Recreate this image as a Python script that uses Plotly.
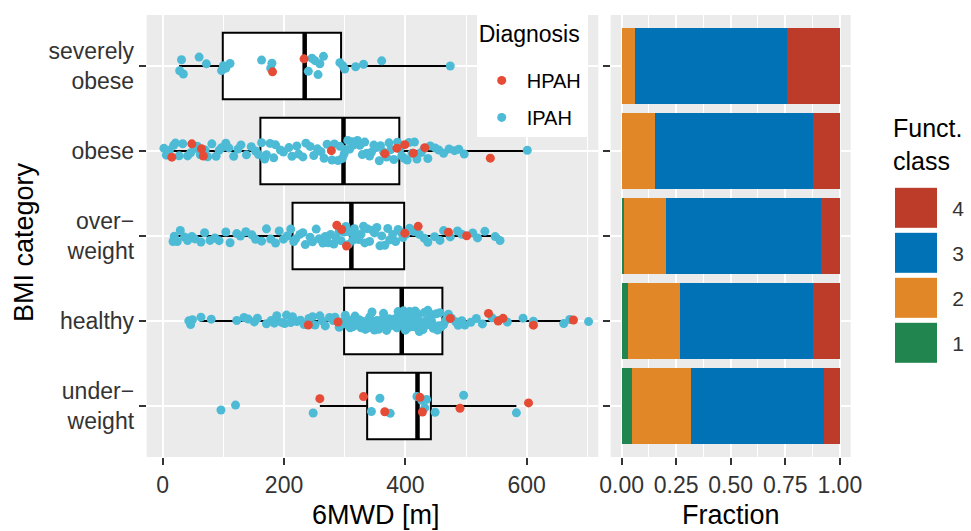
import plotly.graph_objects as go

W, H = 971, 531

# ---------------- data ----------------
categories = ["severely obese", "obese", "overweight", "healthy", "underweight"]
category_labels = ["severely<br>obese", "obese", "over\u2212<br>weight", "healthy", "under\u2212<br>weight"]

# box statistics (6MWD, m)
box_q1 = [99, 161, 214, 299, 337]
box_median = [234, 298, 311, 394, 420]
box_q3 = [294, 390, 398, 461, 442]
box_lower = [27, 8, 23, 61, 259]
box_upper = [474, 600, 555, 671, 583]

# individual patients (6MWD, m)
ipah_severely_obese = [28, 31, 34, 60, 72, 97, 100, 104, 111, 163, 178, 180, 240, 246, 251,
                       256, 259, 265, 292, 297, 300, 318, 331, 361, 474]
hpah_severely_obese = [181, 233]

ipah_obese = [2, 6, 11, 18, 21, 27, 33, 41, 46, 53, 57, 62, 70, 74, 81, 88, 93, 97, 104, 109,
              117, 124, 129, 138, 146, 153, 158, 163, 168, 171, 177, 183, 186, 194, 199, 208,
              213, 221, 224, 231, 236, 243, 249, 255, 261, 266, 271, 279, 283, 289, 292, 296,
              299, 301, 305, 308, 312, 314, 319, 321, 325, 329, 333, 336, 341, 344, 348, 352,
              357, 359, 364, 369, 373, 376, 381, 387, 391, 394, 398, 403, 406, 411, 415, 419,
              426, 431, 437, 441, 449, 455, 463, 472, 481, 488, 497, 601]
hpah_obese = [15, 48, 64, 67, 278, 366, 386, 399, 413, 432, 540]

ipah_overweight = [17, 19, 24, 29, 36, 41, 48, 53, 63, 69, 78, 86, 93, 104, 111, 122, 128, 137,
                   147, 153, 163, 171, 178, 186, 192, 199, 205, 211, 216, 219, 226, 231, 235,
                   243, 247, 253, 258, 264, 268, 273, 277, 282, 286, 291, 294, 299, 302, 306,
                   309, 313, 316, 319, 323, 327, 331, 333, 337, 341, 346, 349, 353, 358, 361,
                   366, 371, 374, 379, 384, 388, 393, 396, 401, 407, 414, 423, 431, 437, 448,
                   457, 463, 474, 486, 493, 511, 519, 531, 548, 556]
hpah_overweight = [287, 295, 303, 399, 421, 471, 501]

ipah_healthy = [43, 46, 49, 63, 80, 122, 134, 141, 151, 156, 171, 179, 184, 188, 196, 201, 204,
                211, 214, 221, 227, 233, 241, 247, 251, 259, 263, 268, 275, 281, 284, 291, 296,
                300, 301, 304, 306, 309, 311, 314, 317, 319, 322, 324, 327, 329, 331, 334, 336,
                339, 341, 342, 345, 347, 349, 351, 353, 356, 358, 361, 362, 364, 367, 369, 371,
                373, 376, 377, 379, 382, 384, 386, 388, 389, 391, 393, 395, 397, 398, 400, 401,
                403, 405, 407, 409, 411, 412, 414, 416, 417, 419, 421, 423, 424, 426, 428, 429,
                431, 433, 435, 437, 439, 441, 443, 444, 446, 448, 451, 453, 455, 457, 459, 463,
                466, 471, 476, 483, 487, 493, 498, 508, 517, 527, 543, 553, 568, 594, 611, 661,
                671, 702]
hpah_healthy = [240, 289, 474, 537, 553, 561, 611, 677]

ipah_underweight = [96, 120, 248, 344, 358, 375, 419, 427, 432, 435, 449, 496, 583]
hpah_underweight = [259, 331, 366, 424, 428, 490, 603]

ipah_values = [ipah_severely_obese, ipah_obese, ipah_overweight, ipah_healthy, ipah_underweight]
hpah_values = [hpah_severely_obese, hpah_obese, hpah_overweight, hpah_healthy, hpah_underweight]

# functional class fractions per BMI category
func_classes = [1, 2, 3, 4]
frac_class1 = [0.000, 0.000, 0.011, 0.030, 0.049]
frac_class2 = [0.063, 0.154, 0.193, 0.237, 0.268]
frac_class3 = [0.696, 0.724, 0.709, 0.611, 0.611]
frac_class4 = [0.241, 0.122, 0.087, 0.122, 0.072]
fractions = [frac_class1, frac_class2, frac_class3, frac_class4]

# ---------------- style ----------------
diag_colors = {"HPAH": "#E64B35", "IPAH": "#4DBBD5"}
class_colors = {1: "#20854E", 2: "#E18727", 3: "#0072B5", 4: "#BC3C29"}
FONT = "Liberation Sans, Arial, Helvetica, sans-serif"
TICK_COL = "#333333"
PANEL = "#EBEBEB"
TICK_SIZE = 23


def px_x(p):
    return p / W


def px_y(p):
    return 1 - p / H


fig = go.Figure()

# boxes
fig.add_trace(go.Box(
    y=categories, q1=box_q1, median=box_median, q3=box_q3,
    lowerfence=box_lower, upperfence=box_upper,
    orientation="h", fillcolor="white", line=dict(color="black", width=2),
    width=0.78, whiskerwidth=0, boxpoints=False, hoverinfo="skip",
    showlegend=False, xaxis="x", yaxis="y"))
# thick median
fig.add_trace(go.Box(
    y=categories, q1=box_median, median=box_median, q3=box_median,
    lowerfence=box_median, upperfence=box_median,
    orientation="h", fillcolor="black", line=dict(color="black", width=4.5),
    width=0.78, whiskerwidth=0, boxpoints=False, hoverinfo="skip",
    showlegend=False, xaxis="x", yaxis="y"))

# jittered points
for name, vals in [("IPAH", ipah_values), ("HPAH", hpah_values)]:
    xs, ys = [], []
    for cat, v in zip(categories, vals):
        xs.extend(v)
        ys.extend([cat] * len(v))
    fig.add_trace(go.Box(
        x=xs, y=ys, orientation="h", boxpoints="all", jitter=0.34, pointpos=0,
        width=0.78, fillcolor="rgba(0,0,0,0)", line=dict(width=0, color="rgba(0,0,0,0)"),
        marker=dict(color=diag_colors[name], size=9, opacity=1),
        hoverinfo="skip", showlegend=False, xaxis="x", yaxis="y"))

# legend entries for diagnosis
for i, name in enumerate(["HPAH", "IPAH"]):
    extra = {}
    if i == 0:
        extra["legendgrouptitle"] = dict(text=" ", font=dict(size=4))
    fig.add_trace(go.Scatter(
        x=[None], y=[None], mode="markers", name=name, legendgroup=name,
        marker=dict(color=diag_colors[name], size=9), xaxis="x", yaxis="y", **extra))

# stacked fraction bars
for c, fr in zip(func_classes, fractions):
    fig.add_trace(go.Bar(
        y=categories, x=fr, orientation="h", width=0.9,
        marker=dict(color=class_colors[c], line=dict(width=0)),
        showlegend=False, hoverinfo="skip", xaxis="x2", yaxis="y2"))

# functional-class legend keys
cmin, cmax = min(func_classes), max(func_classes)
cscale = [[(c - cmin) / (cmax - cmin), class_colors[c]] for c in func_classes]
fig.add_trace(go.Heatmap(
    x=[0], y=func_classes, z=[[c] for c in func_classes], zmin=cmin, zmax=cmax,
    colorscale=cscale, showscale=False, ygap=5, hoverinfo="skip",
    xaxis="x3", yaxis="y3"))

y_dom = [px_y(457), px_y(15)]
common_y = dict(
    type="category", categoryorder="array", categoryarray=categories,
    range=[4.6, -0.6], showgrid=True, gridcolor="white", gridwidth=2,
    ticks="outside", ticklen=7, tickwidth=1.5, tickcolor=TICK_COL,
    zeroline=False, showline=False, domain=y_dom, automargin=False,
)

fig.update_layout(
    width=W, height=H,
    margin=dict(l=0, r=0, t=0, b=0),
    paper_bgcolor="white", plot_bgcolor="white",
    font=dict(family=FONT, color="black"),
    barmode="stack", boxmode="overlay",
    xaxis=dict(
        domain=[px_x(146.7), px_x(598.3)], range=[-26.4, 718],
        tick0=0, dtick=200, showgrid=True, gridcolor="white", gridwidth=2,
        minor=dict(dtick=100, showgrid=True, gridcolor="white", gridwidth=1),
        ticks="outside", ticklen=7, tickwidth=1.5, tickcolor=TICK_COL,
        tickfont=dict(size=TICK_SIZE, color=TICK_COL), zeroline=False, anchor="y",
        automargin=False,
    ),
    yaxis=dict(**common_y, anchor="x", tickmode="array", tickvals=categories,
               ticktext=category_labels, tickfont=dict(size=TICK_SIZE, color=TICK_COL)),
    xaxis2=dict(
        domain=[px_x(610.7), px_x(850.7)], range=[-0.05, 1.05],
        tickvals=[0, 0.25, 0.5, 0.75, 1.0], tickformat=".2f",
        showgrid=True, gridcolor="white", gridwidth=2,
        minor=dict(tickvals=[0.125, 0.375, 0.625, 0.875], showgrid=True,
                   gridcolor="white", gridwidth=1),
        ticks="outside", ticklen=7, tickwidth=1.5, tickcolor=TICK_COL,
        tickfont=dict(size=TICK_SIZE, color=TICK_COL), zeroline=False, anchor="y2",
        automargin=False,
    ),
    yaxis2=dict(**common_y, anchor="x2", showticklabels=False),
    xaxis3=dict(domain=[px_x(895), px_x(937.3)], range=[-0.5, 0.5], visible=False,
                anchor="y3", automargin=False),
    yaxis3=dict(domain=[px_y(365.8), px_y(185.8)], range=[0.5, 4.5], anchor="x3",
                side="right", tickvals=func_classes, ticktext=[str(c) for c in func_classes],
                showgrid=False, zeroline=False, showline=False, ticks="",
                ticklabelstandoff=14, tickfont=dict(size=21, color=TICK_COL),
                automargin=False),
    legend=dict(
        x=px_x(476.7), y=px_y(12), xanchor="left", yanchor="top",
        bgcolor="white", borderwidth=0,
        title=dict(text="Diagnosis", font=dict(size=23)),
        font=dict(size=20), itemwidth=40, traceorder="grouped", tracegroupgap=8,
    ),
    shapes=[
        dict(type="rect", xref="x domain", yref="y domain", x0=0, x1=1, y0=0, y1=1,
             fillcolor=PANEL, line=dict(width=0), layer="below"),
        dict(type="rect", xref="x2 domain", yref="y2 domain", x0=0, x1=1, y0=0, y1=1,
             fillcolor=PANEL, line=dict(width=0), layer="below"),
    ],
    annotations=[
        dict(text="6MWD [m]", x=px_x(376), y=px_y(515), xref="paper", yref="paper",
             xanchor="center", yanchor="middle", showarrow=False, font=dict(size=27)),
        dict(text="Fraction", x=px_x(730.7), y=px_y(515), xref="paper", yref="paper",
             xanchor="center", yanchor="middle", showarrow=False, font=dict(size=27)),
        dict(text="BMI category", x=px_x(24), y=px_y(242), xref="paper", yref="paper",
             xanchor="center", yanchor="middle", showarrow=False, textangle=-90,
             font=dict(size=27)),
        dict(text="Funct.<br>class", x=px_x(891), y=px_y(112), xref="paper", yref="paper",
             xanchor="left", yanchor="top", align="left", showarrow=False,
             font=dict(size=25)),
    ],
)

fig.write_html("out.html",
               config={"displayModeBar": False},
               post_script="document.body.style.margin='0px';"
                           "document.body.style.overflow='hidden';")
